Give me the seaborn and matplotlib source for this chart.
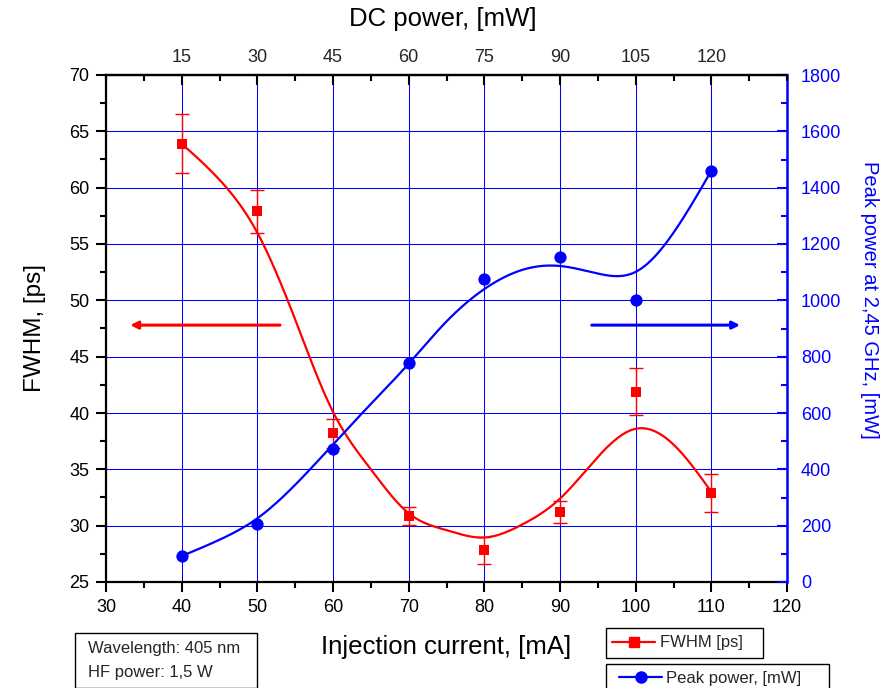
import numpy as np
import pandas as pd
import seaborn as sns
import matplotlib
matplotlib.use("Agg")
import matplotlib.pyplot as plt
from matplotlib.patches import Rectangle
from matplotlib.lines import Line2D
from matplotlib.ticker import MultipleLocator, FixedLocator

# ---------------- data ----------------
current = [40, 50, 60, 70, 80, 90, 100, 110]
dc_power = [15, 30, 45, 60, 75, 90, 105, 120]
fwhm = [63.9, 57.9, 38.2, 30.9, 27.8, 31.2, 41.9, 32.9]
fwhm_err = [2.6, 1.9, 1.3, 0.8, 1.2, 1.0, 2.1, 1.7]
peak_power = [92, 206, 472, 776, 1076, 1155, 1001, 1460]

# smooth fit curves
fit_current = [40, 45, 50, 55, 60, 65, 70, 75, 80, 85, 90, 95, 100, 105, 110]
fwhm_fit = [63.9, 60.7, 56.0, 48.3, 40.1, 35.0, 31.1, 29.6, 28.95, 30.1, 32.4, 36.1, 38.6, 37.2, 33.0]
peak_fit = [92, 150, 226, 345, 488, 632, 775, 925, 1040, 1108, 1122, 1095, 1101, 1240, 1460]


def natural_spline(x, y, n=400):
    x = np.asarray(x, float)
    y = np.asarray(y, float)
    k = len(x)
    h = np.diff(x)
    A = np.zeros((k, k))
    b = np.zeros(k)
    A[0, 0] = A[-1, -1] = 1
    for i in range(1, k - 1):
        A[i, i - 1] = h[i - 1]
        A[i, i] = 2 * (h[i - 1] + h[i])
        A[i, i + 1] = h[i]
        b[i] = 6 * ((y[i + 1] - y[i]) / h[i] - (y[i] - y[i - 1]) / h[i - 1])
    M = np.linalg.solve(A, b)
    xs = np.linspace(x[0], x[-1], n)
    idx = np.clip(np.searchsorted(x, xs) - 1, 0, k - 2)
    x0, x1 = x[idx], x[idx + 1]
    hh = x1 - x0
    t0 = x1 - xs
    t1 = xs - x0
    ys = (M[idx] * t0 ** 3 + M[idx + 1] * t1 ** 3) / (6 * hh) \
        + (y[idx] / hh - M[idx] * hh / 6) * t0 \
        + (y[idx + 1] / hh - M[idx + 1] * hh / 6) * t1
    return xs, ys


RED = "#ff0000"
BLUE = "#0000ff"

sns.set_theme(style="white")
plt.rcParams["font.family"] = ["Liberation Sans", "DejaVu Sans"]

W, H = 883, 688
fig = plt.figure(figsize=(W / 100, H / 100), dpi=100)

L, R, T, B = 106, 787, 75, 582
ax = fig.add_axes([L / W, 1 - B / H, (R - L) / W, (B - T) / H])
ax2 = ax.twinx()
axt = ax.twiny()

ax.set_xlim(30, 120)
ax.set_ylim(25, 70)
ax2.set_ylim(0, 1800)
axt.set_xlim(30, 120)

# grid
ax.set_axisbelow(True)
ax.xaxis.set_major_locator(MultipleLocator(10))
ax.xaxis.set_minor_locator(MultipleLocator(5))
ax.yaxis.set_major_locator(MultipleLocator(5))
ax.yaxis.set_minor_locator(MultipleLocator(2.5))
ax.grid(True, which="major", color=BLUE, lw=0.75)

# FWHM (left axis)
xs, ys = natural_spline(fit_current, fwhm_fit)
sns.lineplot(x=xs, y=ys, ax=ax, color=RED, lw=1.6, estimator=None, sort=False, zorder=3)
ax.errorbar(current, fwhm, yerr=fwhm_err, fmt="none", ecolor=RED, elinewidth=1.0,
            capsize=5, capthick=1.0, zorder=3)
sns.scatterplot(x=current, y=fwhm, ax=ax, marker="s", s=62, color=RED, linewidth=0, zorder=4)

# Peak power (right axis)
xs2, ys2 = natural_spline(fit_current, peak_fit)
sns.lineplot(x=xs2, y=ys2, ax=ax2, color=BLUE, lw=1.6, estimator=None, sort=False, zorder=3)
sns.scatterplot(x=current, y=peak_power, ax=ax2, marker="o", s=78, color=BLUE, linewidth=0, zorder=4)

# arrows
ax.annotate("", xy=(33.2, 47.8), xytext=(53.0, 47.8),
            arrowprops=dict(arrowstyle="-|>", color=RED, lw=2.2, mutation_scale=11,
                            shrinkA=0, shrinkB=0))
ax2.annotate("", xy=(113.8, 912), xytext=(94.2, 912),
             arrowprops=dict(arrowstyle="-|>", color=BLUE, lw=2.2, mutation_scale=11,
                             shrinkA=0, shrinkB=0))

# spines
for s in ["left", "bottom", "top"]:
    ax.spines[s].set_color("black")
    ax.spines[s].set_linewidth(1.6)
ax.spines["right"].set_visible(False)
for s in ["left", "bottom", "top"]:
    ax2.spines[s].set_visible(False)
ax2.spines["right"].set_color(BLUE)
ax2.spines["right"].set_linewidth(1.8)
for s in ["left", "bottom", "right"]:
    axt.spines[s].set_visible(False)
axt.spines["top"].set_color("black")
axt.spines["top"].set_linewidth(1.6)

# ticks
ax.set_xticks(np.arange(30, 121, 10))
ax.set_yticks(np.arange(25, 71, 5))
ax.tick_params(axis="both", which="major", direction="out", length=7, width=1.5,
               color="black", labelsize=13, labelcolor="black", pad=5,
               left=True, bottom=True, right=False, top=False)
ax.tick_params(axis="both", which="minor", direction="out", length=4, width=1.5,
               color="black", left=True, bottom=True, right=False, top=False)

ax2.yaxis.set_major_locator(MultipleLocator(200))
ax2.yaxis.set_minor_locator(MultipleLocator(100))
ax2.tick_params(axis="y", which="major", direction="in", length=7, width=1.5,
                color=BLUE, labelcolor=BLUE, labelsize=13, pad=10, right=True)
ax2.tick_params(axis="y", which="minor", direction="in", length=4, width=1.5,
                color=BLUE, right=True)
ax2.grid(False)

axt.xaxis.set_major_locator(FixedLocator(current))
axt.xaxis.set_minor_locator(MultipleLocator(5))
axt.set_xticklabels([str(v) for v in dc_power])
axt.tick_params(axis="x", which="major", direction="in", length=7, width=1.5,
                color="black", labelsize=13, pad=6.5, top=True)
axt.tick_params(axis="x", which="minor", direction="in", length=4, width=1.5,
                color="black", top=True)
axt.grid(False)

ax.set_xlabel("")
ax.set_ylabel("")
ax2.set_ylabel("")
axt.set_xlabel("")

# axis titles
fig.text((L + R) / 2 / W, 1 - 647 / H, "Injection current, [mA]", ha="center", va="center",
         fontsize=18.5, color="black")
fig.text(443 / W, 1 - 19 / H, "DC power, [mW]", ha="center", va="center",
         fontsize=18.5, color="black")
fig.text(35 / W, 1 - 328 / H, "FWHM, [ps]", ha="center", va="center", rotation=90,
         fontsize=17.5, color="black")
fig.text(870 / W, 1 - 300 / H, "Peak power at 2,45 GHz, [mW]", ha="center", va="center",
         rotation=-90, fontsize=14.5, color=BLUE)

# info box
def px_rect(x0, y0, x1, y1):
    return Rectangle((x0 / W, 1 - y1 / H), (x1 - x0) / W, (y1 - y0) / H,
                     transform=fig.transFigure, fill=False, edgecolor="black", lw=1.0)

fig.patches.append(px_rect(75, 633, 257, 688))
fig.text(88 / W, 1 - 648 / H, "Wavelength: 405 nm", ha="left", va="center", fontsize=12)
fig.text(88 / W, 1 - 672 / H, "HF power: 1,5 W", ha="left", va="center", fontsize=12)

# legends
fig.patches.append(px_rect(606, 628, 763, 658))
fig.patches.append(px_rect(606, 664, 829, 700))
h1 = Line2D([], [], color=RED, lw=1.6, marker="s", markersize=7)
h2 = Line2D([], [], color=BLUE, lw=1.6, marker="o", markersize=8)
leg1 = fig.legend(handles=[h1], labels=["FWHM [ps]"], loc="center left",
                  bbox_to_anchor=(612 / W, 1 - 643 / H), frameon=False, fontsize=12,
                  handlelength=2.6, handletextpad=0.25, borderpad=0, borderaxespad=0)
leg2 = fig.legend(handles=[h2], labels=["Peak power, [mW]"], loc="center left",
                  bbox_to_anchor=(619 / W, 1 - 678 / H), frameon=False, fontsize=12,
                  handlelength=2.6, handletextpad=0.25, borderpad=0, borderaxespad=0)

fig.savefig("out.png", dpi=100)
